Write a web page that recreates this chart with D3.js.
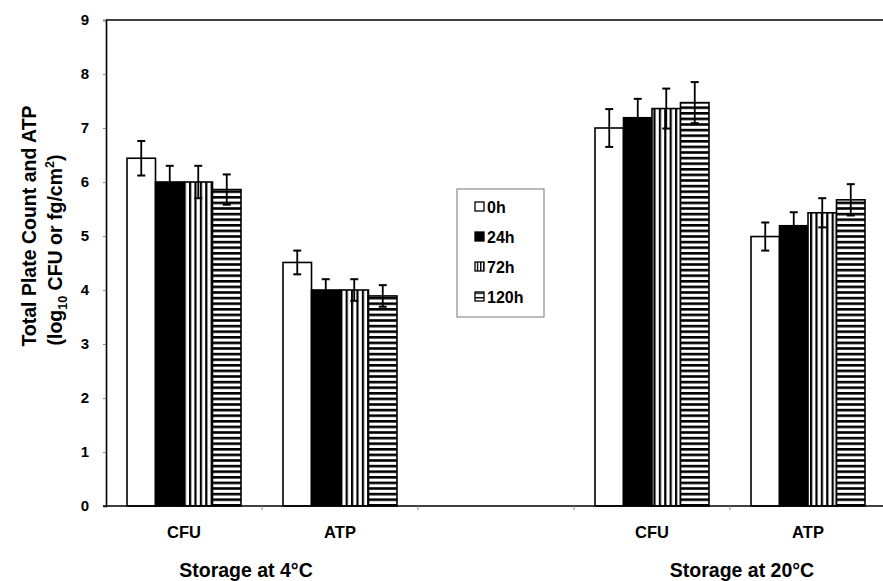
<!DOCTYPE html>
<html>
<head>
<meta charset="utf-8">
<script src="https://cdn.jsdelivr.net/npm/d3@7"></script>
<style>
  html, body { margin: 0; padding: 0; background: #fff; }
  svg { display: block; font-family: "Liberation Sans", Arial, sans-serif; font-weight: bold; }
</style>
</head>
<body>
<svg id="chart" width="883" height="581"></svg>
<script>
// ---- data ----
const categories = ["CFU", "ATP", "", "CFU", "ATP"];
const groupLabels = ["Storage at 4°C", "Storage at 20°C"];
const series = ["0h", "24h", "72h", "120h"];
const v0h   = [6.44, 4.51, null, 7.00, 4.99];
const v24h  = [6.00, 4.00, null, 7.19, 5.19];
const v72h  = [6.00, 4.00, null, 7.36, 5.43];
const v120h = [5.86, 3.89, null, 7.47, 5.67];
const e0h   = [0.32, 0.22, null, 0.35, 0.26];
const e24h  = [0.30, 0.20, null, 0.35, 0.25];
const e72h  = [0.30, 0.20, null, 0.37, 0.27];
const e120h = [0.28, 0.20, null, 0.38, 0.29];
const yTicks = [0, 1, 2, 3, 4, 5, 6, 7, 8, 9];

const values = [v0h, v24h, v72h, v120h];
const errors = [e0h, e24h, e72h, e120h];

const svg = d3.select("#chart");
const pLeft = 106, pRight = 886, pTop = 20, pBottom = 506;
const FONT = "Liberation Sans, Arial, sans-serif";

const x = d3.scaleBand().domain(d3.range(categories.length)).range([pLeft, pRight]).paddingInner(0).paddingOuter(0);
const x1 = d3.scaleBand().domain(series).range([0, x.bandwidth()]).paddingOuter(0.737).paddingInner(0);
const y = d3.scaleLinear().domain([0, 9]).range([pBottom, pTop]);

// ---- patterns ----
const defs = svg.append("defs");
function vPattern(id, period, bw) {
  const p = defs.append("pattern").attr("id", id).attr("patternUnits", "userSpaceOnUse")
    .attr("width", period).attr("height", 10);
  p.append("rect").attr("width", period).attr("height", 10).attr("fill", "#fff");
  p.append("rect").attr("x", 0).attr("width", bw).attr("height", 10).attr("fill", "#000");
}
function hPattern(id, period, bh) {
  const p = defs.append("pattern").attr("id", id).attr("patternUnits", "userSpaceOnUse")
    .attr("width", 10).attr("height", period);
  p.append("rect").attr("width", 10).attr("height", period).attr("fill", "#fff");
  p.append("rect").attr("y", 0).attr("width", 10).attr("height", bh).attr("fill", "#000");
}
vPattern("vstripe", 5.4, 2.2);
hPattern("hstripe", 5.6, 2.6);
vPattern("vstripeL", 3.2, 1.4);
hPattern("hstripeL", 4.5, 1.4);
const fills = ["#fff", "#000", "url(#vstripe)", "url(#hstripe)"];
const legendFills = ["#fff", "#000", "url(#vstripeL)", "url(#hstripeL)"];

// ---- frame ----
svg.append("line").attr("x1", pLeft).attr("x2", 883).attr("y1", pTop).attr("y2", pTop)
  .attr("stroke", "#000").attr("stroke-width", 1.5);

// ---- bars ----
const barsG = svg.append("g");
series.forEach((s, si) => {
  categories.forEach((c, ci) => {
    const v = values[si][ci];
    if (v == null) return;
    barsG.append("rect")
      .attr("x", x(ci) + x1(s))
      .attr("y", y(v))
      .attr("width", x1.bandwidth())
      .attr("height", y(0) - y(v))
      .attr("fill", fills[si])
      .attr("stroke", "#000")
      .attr("stroke-width", 1.6);
  });
});

// ---- error bars ----
const errG = svg.append("g").attr("stroke", "#000").attr("stroke-width", 1.8);
series.forEach((s, si) => {
  categories.forEach((c, ci) => {
    const v = values[si][ci], e = errors[si][ci];
    if (v == null) return;
    const cx = x(ci) + x1(s) + x1.bandwidth() / 2;
    errG.append("line").attr("x1", cx).attr("x2", cx).attr("y1", y(v + e)).attr("y2", y(v - e));
    errG.append("line").attr("x1", cx - 4).attr("x2", cx + 4).attr("y1", y(v + e)).attr("y2", y(v + e)).attr("stroke-width", 2);
    errG.append("line").attr("x1", cx - 4).attr("x2", cx + 4).attr("y1", y(v - e)).attr("y2", y(v - e)).attr("stroke-width", 2);
  });
});

// ---- axes ----
const yAxis = svg.append("g").attr("transform", `translate(${pLeft},0)`)
  .call(d3.axisLeft(y).tickValues(yTicks).tickSize(3).tickPadding(14).tickFormat(d3.format("d")));
yAxis.select(".domain").attr("stroke", "#000").attr("stroke-width", 1.6);
yAxis.selectAll(".tick line").attr("stroke", "#888");
yAxis.selectAll("text").attr("font-size", 15).attr("font-weight", "bold")
  .attr("font-family", FONT).attr("fill", "#000");

const xAxis = svg.append("g").attr("transform", `translate(0,${pBottom})`)
  .call(d3.axisBottom(x).tickSize(0).tickFormat(i => categories[i]).tickPadding(0));
xAxis.select(".domain").remove();
svg.append("line").attr("x1", 103).attr("x2", 883).attr("y1", pBottom).attr("y2", pBottom)
  .attr("stroke", "#000").attr("stroke-width", 1.6);
xAxis.selectAll("text").attr("font-size", 16.5).attr("font-weight", "bold")
  .attr("font-family", FONT).attr("fill", "#000")
  .attr("y", 32).attr("dy", 0);
// small tick marks between categories
d3.range(1, categories.length).forEach(i => {
  svg.append("line").attr("x1", x(i)).attr("x2", x(i)).attr("y1", pBottom).attr("y2", pBottom + 4)
    .attr("stroke", "#888").attr("stroke-width", 1);
});

// group labels
svg.append("text").attr("x", 246).attr("y", 577).attr("text-anchor", "middle")
  .attr("font-size", 19.5).text(groupLabels[0]);
svg.append("text").attr("x", 742).attr("y", 577).attr("text-anchor", "middle")
  .attr("font-size", 19.5).text(groupLabels[1]);

// y title
svg.append("text").attr("transform", "translate(36,226) rotate(-90)").attr("text-anchor", "middle")
  .attr("font-size", 19.5).text("Total Plate Count and ATP");
const t2 = svg.append("text").attr("transform", "translate(62,250) rotate(-90)").attr("text-anchor", "middle")
  .attr("font-size", 19.5);
t2.append("tspan").text("(log");
t2.append("tspan").attr("font-size", 12.5).attr("dy", 5).text("10");
t2.append("tspan").attr("dy", -5).text(" CFU or fg/cm");
t2.append("tspan").attr("font-size", 12.5).attr("dy", -8).text("2");
t2.append("tspan").attr("dy", 8).text(")");

// ---- legend ----
const lg = svg.append("g");
lg.append("rect").attr("x", 457).attr("y", 189).attr("width", 87).attr("height", 128)
  .attr("fill", "#fff").attr("stroke", "#777").attr("stroke-width", 1);
series.forEach((s, i) => {
  const yy = 207 + i * 30;
  lg.append("rect").attr("x", 475).attr("y", yy - 5).attr("width", 9).attr("height", 9)
    .attr("fill", legendFills[i]).attr("stroke", "#000").attr("stroke-width", 1.3);
  lg.append("text").attr("x", 487).attr("y", yy + 6).attr("font-size", 16).text(s);
});
</script>
</body>
</html>
